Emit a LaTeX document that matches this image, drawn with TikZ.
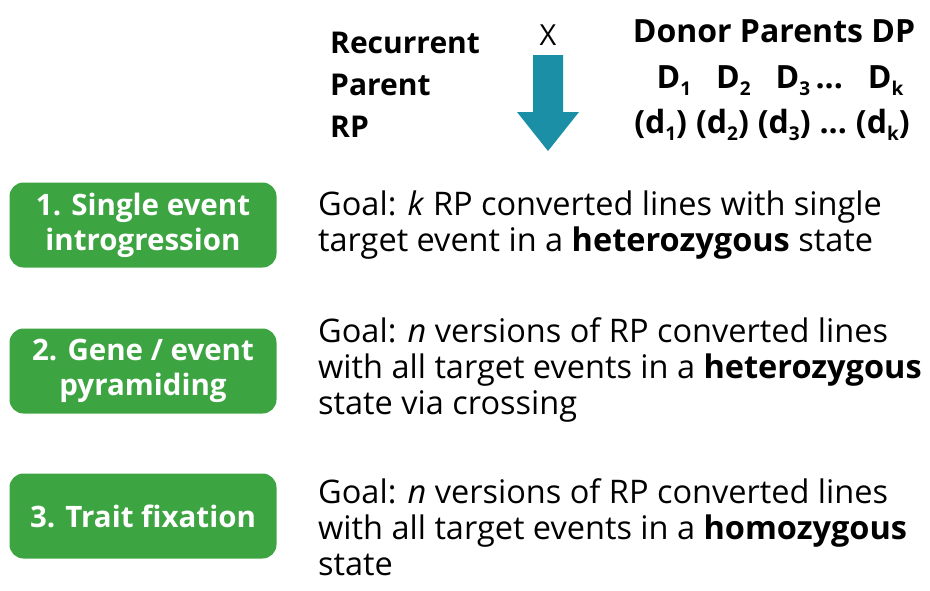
\documentclass[tikz,border=0pt]{standalone}
\usepackage{fontspec}
\setmainfont{Open Sans}
\definecolor{boxgreen}{HTML}{3DA442}
\definecolor{arrowteal}{HTML}{1B8FA6}
% bold, lowered index digit/letter
\newcommand{\lowidx}[1]{\raisebox{-0.45ex}{\fontsize{19}{20}\selectfont #1}}
\begin{document}
\begin{tikzpicture}[x=1pt,y=-1pt,
  stagebox/.style={fill=boxgreen, rounded corners=14pt, minimum width=267pt, minimum height=85pt,
    text=white, font=\fontsize{29.5}{35}\selectfont\bfseries, align=center, inner sep=0pt},
  goal/.style={anchor=base west, align=left, font=\fontsize{32.5}{36}\selectfont, inner sep=0pt},
  head/.style={font=\fontsize{30}{42}\selectfont\bfseries, inner sep=0pt},
  dhead/.style={font=\fontsize{32}{36}\selectfont\bfseries, inner sep=0pt, anchor=base}]
\useasboundingbox (0,0) rectangle (930,590);

% parents and cross arrow
\node[head, anchor=west, align=left] (rp) at (330,85) {Recurrent\\Parent\\RP};
\node[font=\fontsize{29}{30}\selectfont, inner sep=0pt] (cross) at (548,35) {X};
\fill[arrowteal] (533,55) -- (563,55) -- (563,112) -- (579,112) -- (548,151) -- (517,112) -- (533,112) -- cycle;
\node[dhead] (dp) at (774,42) {Donor Parents DP};
\node[dhead] (drow) at (780,88) {D\lowidx{1}\ \ \ D\lowidx{2}\ \ \ D\lowidx{3}\,...\ \ \ D\lowidx{k}};
\node[dhead] (lrow) at (772,133) {(d\lowidx{1})\hspace{9pt}(d\lowidx{2})\hspace{9pt}(d\lowidx{3})\hspace{9pt}...\hspace{9pt}(d\lowidx{k})};

% stages
\node[stagebox] (s1) at (143,225) {1. Single event\\introgression};
\node[stagebox] (s2) at (143,371) {2. Gene / event\\pyramiding};
\node[stagebox] (s3) at (143,516) {3. Trait fixation};

% goals, each placed by the baseline of its last line
\node[goal] (g1) at (318,251) {Goal: \textit{k} RP converted lines with single\\target event in a \textbf{heterozygous} state};
\node[goal] (g2) at (318,414) {Goal: \textit{n} versions of RP converted lines\\with all target events in a \textbf{heterozygous}\\state via crossing};
\node[goal] (g3) at (318,575) {Goal: \textit{n} versions of RP converted lines\\with all target events in a \textbf{homozygous}\\state};
\end{tikzpicture}
\end{document}
